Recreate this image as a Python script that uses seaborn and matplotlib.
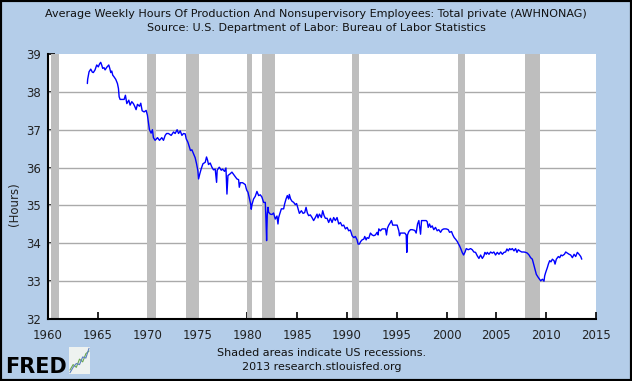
import numpy as np
import pandas as pd
import matplotlib
matplotlib.use("Agg")
import matplotlib.pyplot as plt
import seaborn as sns
from matplotlib.patches import Rectangle

# --- Data (AWHNONAG, hours) ---
YEARS = [
    1963.95, 1963.98, 1964.12, 1964.29, 1964.45, 1964.55, 1964.72, 1964.89, 1965.05, 1965.16,
    1965.29, 1965.40, 1965.49, 1965.62, 1965.73, 1965.90, 1966.10, 1966.20, 1966.30, 1966.40,
    1966.50, 1966.62, 1966.80, 1966.97, 1967.07, 1967.14, 1967.24, 1967.40, 1967.64, 1967.77,
    1967.91, 1968.11, 1968.24, 1968.41, 1968.57, 1968.70, 1968.84, 1968.98, 1969.18, 1969.31,
    1969.45, 1969.65, 1969.85, 1969.98, 1970.08, 1970.18, 1970.35, 1970.48, 1970.58, 1970.75,
    1970.99, 1971.19, 1971.42, 1971.59, 1971.76, 1971.90, 1972.09, 1972.36, 1972.60, 1972.76,
    1972.96, 1973.10, 1973.27, 1973.44, 1973.60, 1973.77, 1973.87, 1974.04, 1974.17, 1974.30,
    1974.44, 1974.60, 1974.77, 1974.91, 1975.04, 1975.11, 1975.24, 1975.38, 1975.55, 1975.78,
    1975.91, 1976.01, 1976.11, 1976.28, 1976.45, 1976.61, 1976.78, 1976.92, 1976.98, 1977.19,
    1977.39, 1977.52, 1977.72, 1977.86, 1977.96, 1978.06, 1978.26, 1978.46, 1978.62, 1978.79,
    1978.96, 1979.13, 1979.20, 1979.30, 1979.53, 1979.80, 1979.90, 1979.97, 1980.07, 1980.13,
    1980.22, 1980.33, 1980.40, 1980.47, 1980.53, 1980.63, 1980.80, 1980.97, 1981.14, 1981.31,
    1981.47, 1981.64, 1981.81, 1981.88, 1981.94, 1982.01, 1982.08, 1982.14, 1982.31, 1982.48,
    1982.64, 1982.81, 1982.98, 1983.08, 1983.15, 1983.25, 1983.42, 1983.65, 1983.75, 1983.89,
    1984.02, 1984.15, 1984.22, 1984.35, 1984.49, 1984.66, 1984.82, 1984.95, 1985.10, 1985.23,
    1985.43, 1985.60, 1985.76, 1985.90, 1986.03, 1986.16, 1986.33, 1986.50, 1986.66, 1986.83,
    1987.00, 1987.10, 1987.24, 1987.44, 1987.57, 1987.71, 1987.84, 1988.01, 1988.17, 1988.34,
    1988.51, 1988.67, 1988.84, 1989.01, 1989.18, 1989.35, 1989.51, 1989.68, 1989.85, 1990.02,
    1990.18, 1990.35, 1990.52, 1990.69, 1990.85, 1991.02, 1991.12, 1991.26, 1991.36, 1991.52,
    1991.69, 1991.79, 1991.93, 1992.03, 1992.19, 1992.36, 1992.53, 1992.69, 1992.86, 1993.03,
    1993.13, 1993.20, 1993.37, 1993.53, 1993.70, 1993.87, 1993.97, 1994.07, 1994.20, 1994.37,
    1994.47, 1994.60, 1994.87, 1995.04, 1995.21, 1995.28, 1995.38, 1995.55, 1995.81, 1995.95,
    1996.01, 1996.08, 1996.21, 1996.38, 1996.55, 1996.81, 1996.95, 1997.09, 1997.22, 1997.39,
    1997.49, 1997.72, 1997.96, 1998.06, 1998.16, 1998.29, 1998.42, 1998.56, 1998.72, 1998.89,
    1999.06, 1999.22, 1999.40, 1999.56, 1999.73, 1999.97, 2000.17, 2000.30, 2000.50, 2000.63,
    2000.77, 2000.90, 2001.07, 2001.17, 2001.31, 2001.44, 2001.57, 2001.71, 2001.84, 2001.98,
    2002.18, 2002.41, 2002.58, 2002.74, 2002.91, 2003.08, 2003.25, 2003.42, 2003.59, 2003.75,
    2003.85, 2003.99, 2004.09, 2004.26, 2004.42, 2004.59, 2004.75, 2004.92, 2005.09, 2005.26,
    2005.43, 2005.60, 2005.76, 2005.93, 2006.06, 2006.20, 2006.33, 2006.46, 2006.60, 2006.77,
    2006.93, 2007.07, 2007.20, 2007.34, 2007.54, 2007.77, 2007.94, 2008.11, 2008.28, 2008.44,
    2008.61, 2008.74, 2008.88, 2009.01, 2009.15, 2009.28, 2009.45, 2009.62, 2009.78, 2009.85,
    2009.95, 2010.12, 2010.22, 2010.35, 2010.48, 2010.62, 2010.79, 2010.89, 2011.02, 2011.22,
    2011.36, 2011.49, 2011.62, 2011.83, 2011.96, 2012.13, 2012.30, 2012.46, 2012.63, 2012.80,
    2012.96, 2013.13, 2013.30, 2013.47, 2013.57,
]
HOURS = [
    38.22, 38.33, 38.53, 38.60, 38.52, 38.51, 38.58, 38.71, 38.66, 38.73,
    38.78, 38.70, 38.62, 38.64, 38.58, 38.65, 38.71, 38.62, 38.51, 38.55,
    38.44, 38.40, 38.33, 38.22, 38.09, 37.87, 37.80, 37.80, 37.80, 37.91,
    37.69, 37.78, 37.65, 37.74, 37.69, 37.62, 37.53, 37.67, 37.62, 37.70,
    37.50, 37.47, 37.51, 37.38, 37.20, 37.00, 36.91, 37.00, 36.79, 36.72,
    36.79, 36.72, 36.79, 36.72, 36.85, 36.90, 36.90, 36.85, 36.94, 36.90,
    37.00, 36.90, 36.97, 36.85, 36.90, 36.89, 36.76, 36.67, 36.56, 36.45,
    36.47, 36.37, 36.26, 36.10, 35.92, 35.70, 35.84, 35.97, 36.10, 36.14,
    36.28, 36.20, 36.08, 36.12, 36.01, 35.94, 35.96, 35.61, 35.93, 36.01,
    35.93, 35.96, 35.90, 35.99, 35.30, 35.79, 35.83, 35.88, 35.82, 35.76,
    35.70, 35.68, 35.48, 35.60, 35.60, 35.55, 35.44, 35.39, 35.35, 35.28,
    35.18, 35.05, 34.90, 35.02, 35.08, 35.17, 35.24, 35.37, 35.26, 35.28,
    35.22, 35.08, 35.08, 34.60, 34.07, 34.77, 34.95, 34.82, 34.77, 34.76,
    34.80, 34.64, 34.72, 34.51, 34.68, 34.77, 34.91, 34.91, 35.04, 35.17,
    35.26, 35.17, 35.29, 35.17, 35.11, 35.08, 35.02, 35.05, 34.91, 34.79,
    34.86, 34.79, 34.81, 34.95, 34.80, 34.73, 34.75, 34.68, 34.60, 34.68,
    34.77, 34.67, 34.77, 34.68, 34.86, 34.73, 34.66, 34.66, 34.55, 34.66,
    34.55, 34.68, 34.60, 34.68, 34.51, 34.55, 34.46, 34.48, 34.38, 34.42,
    34.33, 34.35, 34.20, 34.15, 34.18, 34.09, 33.98, 33.98, 34.04, 34.09,
    34.11, 34.18, 34.09, 34.15, 34.13, 34.27, 34.22, 34.20, 34.22, 34.29,
    34.22, 34.38, 34.33, 34.38, 34.38, 34.38, 34.22, 34.40, 34.48, 34.55,
    34.60, 34.48, 34.48, 34.48, 34.33, 34.20, 34.27, 34.27, 34.27, 34.22,
    33.76, 34.22, 34.31, 34.36, 34.36, 34.34, 34.27, 34.51, 34.60, 34.24,
    34.60, 34.60, 34.60, 34.57, 34.42, 34.51, 34.42, 34.46, 34.36, 34.42,
    34.33, 34.36, 34.29, 34.36, 34.38, 34.38, 34.36, 34.29, 34.31, 34.22,
    34.15, 34.11, 34.05, 34.00, 33.93, 33.85, 33.76, 33.69, 33.76, 33.86,
    33.83, 33.86, 33.83, 33.77, 33.76, 33.67, 33.60, 33.69, 33.60, 33.67,
    33.76, 33.71, 33.76, 33.71, 33.77, 33.74, 33.77, 33.69, 33.76, 33.71,
    33.77, 33.71, 33.76, 33.77, 33.85, 33.80, 33.86, 33.83, 33.86, 33.80,
    33.86, 33.76, 33.83, 33.80, 33.77, 33.77, 33.76, 33.74, 33.69, 33.62,
    33.58, 33.45, 33.30, 33.18, 33.12, 33.07, 33.01, 33.05, 33.00, 33.14,
    33.23, 33.36, 33.45, 33.54, 33.51, 33.58, 33.54, 33.45, 33.58, 33.65,
    33.62, 33.69, 33.67, 33.71, 33.77, 33.74, 33.71, 33.69, 33.62, 33.71,
    33.65, 33.76, 33.71, 33.65, 33.58,
]

# NBER recessions (decimal years)
RECESSION_START = [1960.33, 1969.92, 1973.83, 1980.00, 1981.50, 1990.50, 2001.17, 2007.92]
RECESSION_END = [1961.08, 1970.83, 1975.17, 1980.50, 1982.83, 1991.17, 2001.83, 2009.42]

X_TICKS = [1960, 1965, 1970, 1975, 1980, 1985, 1990, 1995, 2000, 2005, 2010, 2015]
Y_TICKS = [32, 33, 34, 35, 36, 37, 38, 39]

TITLE = ("Average Weekly Hours Of Production And Nonsupervisory Employees: Total private (AWHNONAG)\n"
         "Source: U.S. Department of Labor: Bureau of Labor Statistics")

# small decorative chart in the FRED logo
LOGO_X = [0, 1, 2, 3, 4, 5, 6]
LOGO_GREEN = [1, 2, 1.5, 3, 2.5, 4, 4.5]
LOGO_BLUE = [0.5, 1.5, 2.2, 2.0, 3.4, 3.2, 5]

BG = '#b4cde9'

def main():
    sns.set_theme(style="white")
    plt.rcParams['font.family'] = ['DejaVu Sans']

    df = pd.DataFrame({'year': YEARS, 'hours': HOURS})

    fig = plt.figure(figsize=(6.32, 3.81), dpi=100, facecolor=BG)
    ax = fig.add_axes([48 / 632, 1 - 319 / 381, 548 / 632, 265 / 381])
    ax.set_facecolor('white')

    # grid, then recession bars, then the series
    for yv in Y_TICKS[1:-1]:
        ax.axhline(yv, color='#aaaaaa', lw=1.0, zorder=1)
    for s, e in zip(RECESSION_START, RECESSION_END):
        ax.axvspan(s, e, color='#bebebe', lw=0, zorder=2)

    sns.lineplot(data=df, x='year', y='hours', ax=ax, color='#0000ff',
                 lw=1.0, estimator=None, sort=False, zorder=3)

    ax.set_xlim(1960, 2015)
    ax.set_ylim(32, 39)
    ax.set_xticks(X_TICKS)
    ax.set_yticks(Y_TICKS)
    ax.set_xlabel('')
    ax.set_ylabel('')
    for side in ['top', 'right']:
        ax.spines[side].set_visible(False)
    for side in ['left', 'bottom']:
        ax.spines[side].set_color('black')
        ax.spines[side].set_linewidth(1.5)
        ax.spines[side].set_zorder(4)
    ax.tick_params(axis='both', direction='in', length=5, width=1.2, color='black',
                   labelsize=8.5, labelcolor='#222222', left=True, bottom=True)
    ax.tick_params(axis='x', pad=7)
    ax.tick_params(axis='y', pad=5)

    fig.text(0.5, 1 - 21 / 381, TITLE, ha='center', va='center', fontsize=8,
             color='#111111', linespacing=1.45)
    fig.text(15 / 632, 1 - 204 / 381, '(Hours)', rotation=90, ha='center', va='center',
             fontsize=8.5, color='#222222')
    fig.text(322 / 632, 1 - 360 / 381,
             'Shaded areas indicate US recessions.\n2013 research.stlouisfed.org',
             ha='center', va='center', fontsize=8, color='#111111', linespacing=1.45)

    # FRED logo
    fig.text(5 / 632, 1 - 373 / 381, 'FRED', ha='left', va='baseline', fontsize=15,
             fontweight='heavy', color='black')
    logo = fig.add_axes([69 / 632, 1 - 374 / 381, 21 / 632, 27 / 381])
    logo.set_facecolor('#eef2f0')
    logo.plot(LOGO_X, LOGO_GREEN, color='#6aa84f', lw=0.8)
    logo.plot(LOGO_X, LOGO_BLUE, color='#5b7fbf', lw=0.8)
    logo.set_xticks([])
    logo.set_yticks([])
    for sp in logo.spines.values():
        sp.set_visible(False)

    # dark frame around the image
    fig.patches.append(Rectangle((0, 0), 1, 1, transform=fig.transFigure, fill=False,
                                 edgecolor='black', lw=3, zorder=10))

    fig.savefig('out.png', dpi=100, facecolor=BG)


if __name__ == "__main__":
    main()
